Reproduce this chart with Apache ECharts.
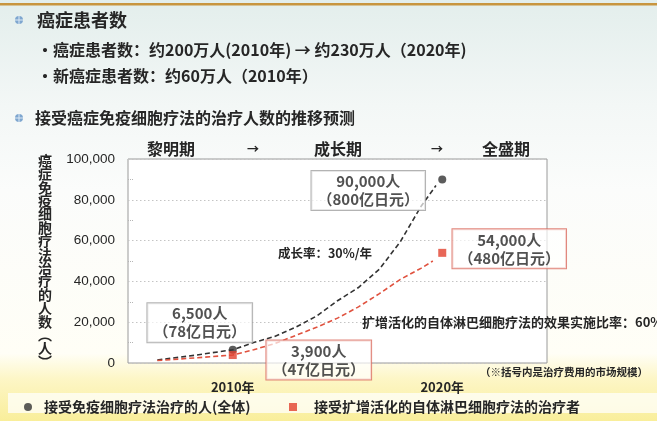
<!DOCTYPE html>
<html>
<head>
<meta charset="utf-8">
<script src="https://cdn.jsdelivr.net/npm/echarts@6/dist/echarts.min.js"></script>
<style>
html,body{margin:0;padding:0;background:#fff;}
#main{width:657px;height:421px;}
</style>
</head>
<body>
<div id="main"></div>
<script>
// ---- data ----
const years = [2010, 2020];
const xTickLabels = ['2010年', '2020年'];
const totalPatients = [6500, 90000];
const lymphoPatients = [3900, 54000];
const totalMarket = [78, 800];   // 亿日元
const lymphoMarket = [47, 480];  // 亿日元
const totalTrendX = [2006.4, 2008.2, 2010, 2011, 2012, 2013, 2014, 2015, 2016, 2017, 2018, 2019, 2019.7];
const totalTrendY = [1500, 3800, 6500, 10000, 13000, 17500, 23000, 30500, 37000, 46000, 59500, 77000, 87000];
const lymphoTrendX = [2006.4, 2008.2, 2010, 2011, 2012, 2013, 2014, 2015, 2016, 2017, 2018, 2019, 2019.55];
const lymphoTrendY = [1200, 2500, 3900, 6500, 9500, 13500, 17500, 22000, 27500, 34000, 41000, 46500, 50000];
const yTicks = [0, 20000, 40000, 60000, 80000, 100000];
const seriesNames = ['接受免疫细胞疗法治疗的人(全体)', '接受扩增活化的自体淋巴细胞疗法的治疗者'];
const phaseLabels = ['黎明期', '成长期', '全盛期'];
const yAxisName = ['癌','症','免','疫','细','胞','疗','法','治','疗','的','人','数','︵','人','︶'];
const headerLines = [
  '癌症患者数',
  '・癌症患者数：约200万人(2010年) → 约230万人（2020年)',
  '・新癌症患者数：约60万人（2010年）',
  '接受癌症免疫细胞疗法的治疗人数的推移预测'
];
const growthNote = '成长率：30%/年';
const ratioNote = '扩增活化的自体淋巴细胞疗法的效果实施比率：60%';
const footNote = '（※括号内是治疗费用的市场规模）';

// ---- styles ----
const CJK = "'Noto Sans CJK SC', 'Noto Sans', sans-serif";
const BLACK = '#333333';
const RED = '#e2412e';
const TXT = '#262626';

const totalOffsets = [[-33, -27], [-74, 11]];
const lymphoOffsets = [[86, 5], [67, -4]];

function fmt(n) { return n.toLocaleString('en-US'); }

function pointData(values, market, offsets, border) {
  return years.map((y, i) => ({
    value: [y, values[i]],
    label: {
      show: true,
      position: 'inside',
      offset: offsets[i],
      formatter: fmt(values[i]) + '人\n（' + market[i] + '亿日元）',
      fontFamily: CJK, fontWeight: 'bold', fontSize: 15, lineHeight: 18,
      color: TXT, align: 'center',
      backgroundColor: 'rgba(255,255,255,0.85)',
      borderColor: border, borderWidth: 1, padding: [2, 6, 1, 6]
    }
  }));
}

const chart = echarts.init(document.getElementById('main'), null, {renderer: 'canvas'});

const gfx = [];
// top orange rule
gfx.push({type: 'rect', shape: {x: 0, y: 3, width: 657, height: 2.5}, style: {fill: '#c8953f'}, z: 10});
// legend band highlight
gfx.push({type: 'rect', shape: {x: 8, y: 393, width: 649, height: 20}, style: {fill: 'rgba(255,255,252,0.75)'}, z: 0});
// bullet icons
[20, 118].forEach(cy => {
  gfx.push({type: 'group', x: 19, y: cy, z: 10, children: [
    {type: 'circle', shape: {cx: 0, cy: 0, r: 4}, style: {fill: '#7ea6cf'}},
    {type: 'line', shape: {x1: -4, y1: 0, x2: 4, y2: 0}, style: {stroke: '#dce9f5', lineWidth: 1}},
    {type: 'line', shape: {x1: 0, y1: -4, x2: 0, y2: 4}, style: {stroke: '#dce9f5', lineWidth: 1}}
  ]});
});
// header lines
const headerPos = [[37, 20, 18], [37, 50, 16], [37, 76, 16], [35, 118, 16]];
headerLines.forEach((t, i) => {
  gfx.push({type: 'text', x: headerPos[i][0], y: headerPos[i][1], z: 10, style: {
    text: t, fill: TXT, font: 'bold ' + headerPos[i][2] + 'px ' + CJK,
    textAlign: 'left', textVerticalAlign: 'middle'}});
});
// phase labels
const phaseX = [171, 338, 506];
phaseLabels.forEach((t, i) => {
  gfx.push({type: 'text', x: phaseX[i], y: 149, z: 10, style: {
    text: t, fill: TXT, font: 'bold 16px ' + CJK, textAlign: 'center', textVerticalAlign: 'middle'}});
});
[253, 437].forEach(x => {
  gfx.push({type: 'text', x: x, y: 149, z: 10, style: {
    text: '→', fill: TXT, font: 'bold 12px ' + CJK, textAlign: 'center', textVerticalAlign: 'middle'}});
});
// notes
gfx.push({type: 'text', x: 325, y: 253, z: 10, style: {text: growthNote, fill: TXT,
  font: 'bold 12.5px ' + CJK, textAlign: 'center', textVerticalAlign: 'middle'}});
gfx.push({type: 'text', x: 362, y: 322, z: 10, style: {text: ratioNote, fill: TXT,
  font: 'bold 13px ' + CJK, textAlign: 'left', textVerticalAlign: 'middle'}});
gfx.push({type: 'text', x: 480, y: 372, z: 10, style: {text: footNote, fill: TXT,
  font: 'bold 10.5px ' + CJK, textAlign: 'left', textVerticalAlign: 'middle'}});

const option = {
  animation: false,
  backgroundColor: {
    type: 'linear', x: 0, y: 0, x2: 0, y2: 1,
    colorStops: [
      {offset: 0, color: '#e3eeec'},
      {offset: 0.25, color: '#f3f7f6'},
      {offset: 0.45, color: '#fbfcfb'},
      {offset: 0.84, color: '#fffef6'},
      {offset: 0.9, color: '#fdf6c6'},
      {offset: 1, color: '#f9ee9a'}
    ]
  },
  graphic: gfx,
  grid: {left: 128, right: 110, top: 159, bottom: 58, show: true,
    backgroundColor: '#ffffff', borderColor: '#9a9a9a', borderWidth: 1},
  legend: [
    {left: 19, top: 395, itemWidth: 8, itemHeight: 8, selectedMode: false,
      data: [{name: seriesNames[0], icon: 'circle'}],
      textStyle: {fontFamily: CJK, fontWeight: 'bold', fontSize: 14, color: TXT, padding: [0, 0, 0, 7]}},
    {left: 284, top: 395, itemWidth: 8, itemHeight: 8, selectedMode: false,
      data: [{name: seriesNames[1], icon: 'rect'}],
      textStyle: {fontFamily: CJK, fontWeight: 'bold', fontSize: 14, color: TXT, padding: [0, 0, 0, 12]}}
  ],
  xAxis: {
    type: 'value', min: 2005, max: 2025, interval: 5,
    axisLine: {show: false}, axisTick: {show: false}, splitLine: {show: false},
    axisLabel: {
      margin: 18, fontSize: 13, color: TXT, fontFamily: CJK, fontWeight: 'bold',
      formatter: v => { const k = years.indexOf(v); return k >= 0 ? xTickLabels[k] : ''; }
    }
  },
  yAxis: {
    type: 'value', min: yTicks[0], max: yTicks[yTicks.length - 1], interval: 20000,
    axisLine: {show: false},
    axisTick: {show: false, inside: true},
    minorTick: {show: true, splitNumber: 2, length: 5, lineStyle: {color: '#b5b5b5', type: 'dotted'}},
    splitLine: {show: true, lineStyle: {color: '#c4c4c4', type: [1.5, 2.5], width: 1}},
    axisLabel: {margin: 13, fontSize: 13.5, color: TXT, fontFamily: "'Liberation Sans', Arial, sans-serif",
      formatter: v => fmt(v)},
    name: yAxisName.join('\n'), nameLocation: 'middle', nameRotate: 0, nameGap: 83,
    nameTextStyle: {fontFamily: CJK, fontWeight: 'bold', fontSize: 14, lineHeight: 13.4, color: TXT,
      align: 'center', verticalAlign: 'middle', padding: [6, 0, 0, 0]}
  },
  series: [
    {
      type: 'lines', coordinateSystem: 'cartesian2d', polyline: true, silent: true, z: 3,
      symbol: ['none', 'arrow'], symbolSize: 8,
      lineStyle: {color: BLACK, width: 1.6, type: [5, 3], opacity: 1},
      data: [{coords: totalTrendX.map((x, i) => [x, totalTrendY[i]])}]
    },
    {
      type: 'lines', coordinateSystem: 'cartesian2d', polyline: true, silent: true, z: 3,
      symbol: ['none', 'arrow'], symbolSize: 8,
      lineStyle: {color: '#e0523f', width: 1.6, type: [5, 3], opacity: 1},
      data: [{coords: lymphoTrendX.map((x, i) => [x, lymphoTrendY[i]])}]
    },
    {
      name: seriesNames[0], type: 'scatter', symbol: 'circle', symbolSize: 8, z: 5,
      itemStyle: {color: BLACK},
      data: pointData(totalPatients, totalMarket, totalOffsets, '#a0a0a0')
    },
    {
      name: seriesNames[1], type: 'scatter', symbol: 'rect', symbolSize: 8, z: 5,
      itemStyle: {color: RED},
      data: pointData(lymphoPatients, lymphoMarket, lymphoOffsets, '#d9695c')
    }
  ]
};
chart.setOption(option);
</script>
</body>
</html>
